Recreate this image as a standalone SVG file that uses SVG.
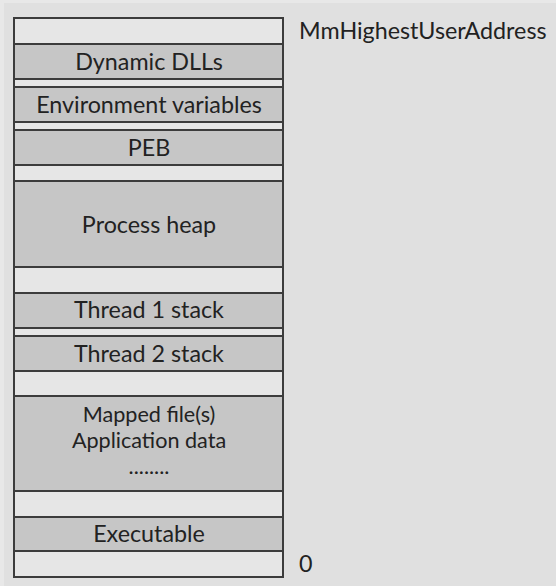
<svg xmlns="http://www.w3.org/2000/svg" width="556" height="586" viewBox="0 0 556 586">
<style>
.e{fill:#e6e6e6;stroke:#3c3c3c;stroke-width:2}
.b{fill:#c6c6c6;stroke:#3c3c3c;stroke-width:2}
text{font-family:Lato,"Noto Sans",sans-serif;font-size:23.3px;fill:#222}
.c{text-anchor:middle}
.m{font-size:21.6px}
</style>
<rect width="556" height="586" fill="#e8e8e8"/>
<rect x="4" y="3" width="552" height="583" fill="#e0e0e0"/>
<g id="column">
<rect class="e" x="14" y="18" width="269" height="559"/>
</g>
<g id="dynamic-dlls"><rect class="b" x="14" y="44" width="269" height="35"/><text class="c" x="149" y="70">Dynamic DLLs</text></g>
<g id="environment-variables"><rect class="b" x="14" y="87" width="269" height="35"/><text class="c" x="149" y="113">Environment variables</text></g>
<g id="peb"><rect class="b" x="14" y="130" width="269" height="35"/><text class="c" x="149" y="156">PEB</text></g>
<g id="process-heap"><rect class="b" x="14" y="181" width="269" height="86"/><text class="c" x="149" y="233">Process heap</text></g>
<g id="thread1-stack"><rect class="b" x="14" y="293" width="269" height="35"/><text class="c" x="149" y="318">Thread 1 stack</text></g>
<g id="thread2-stack"><rect class="b" x="14" y="336" width="269" height="35"/><text class="c" x="149" y="362">Thread 2 stack</text></g>
<g id="mapped-files"><rect class="b" x="14" y="396" width="269" height="95"/><text class="c m" x="149" y="422">Mapped file(s)</text><text class="c m" x="149" y="448">Application data</text><text class="c m" x="149" y="474">........</text></g>
<g id="executable"><rect class="b" x="14" y="517" width="269" height="34"/><text class="c" x="149" y="542">Executable</text></g>
<g id="labels"><text x="299" y="39">MmHighestUserAddress</text><text x="299" y="572">0</text></g>
</svg>
